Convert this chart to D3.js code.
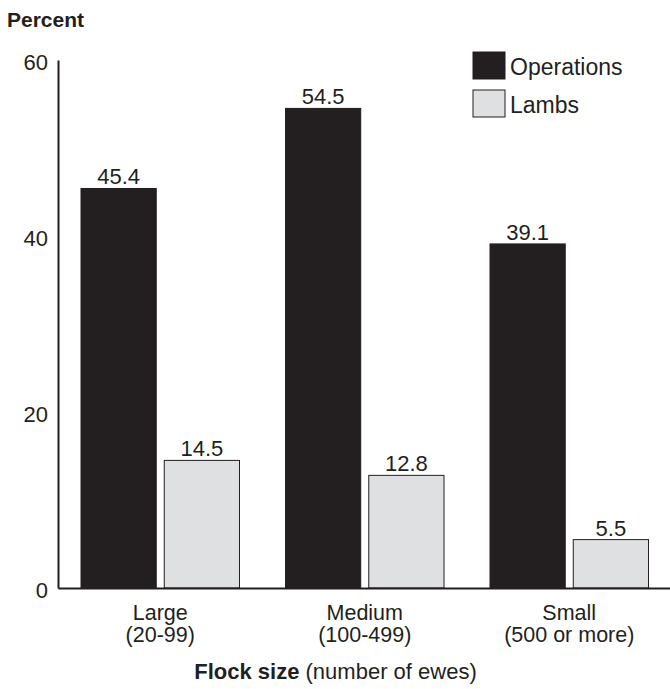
<!DOCTYPE html>
<html>
<head>
<meta charset="utf-8">
<script src="https://cdn.jsdelivr.net/npm/d3@7"></script>
<style>
  html, body { margin: 0; padding: 0; background: #fff; }
  svg { display: block; font-family: "Liberation Sans", Arial, sans-serif; }
</style>
</head>
<body>
<svg id="chart" width="670" height="689"></svg>
<script>
// Flock size categories (two-line labels)
const categories = ["Large", "Medium", "Small"];
const categorySub = ["(20-99)", "(100-499)", "(500 or more)"];
const seriesNames = ["Operations", "Lambs"];
const operations = [45.4, 54.5, 39.1];
const lambs = [14.5, 12.8, 5.5];
const yTicks = [0, 20, 40, 60];

const colors = { Operations: "#231f20", Lambs: "#dfe0e2" };
const ink = "#231f20";
const FS = 22;

const svg = d3.select("#chart");
const plotLeft = 58, plotRight = 671.5, plotTop = 60, plotBottom = 588;

const x = d3.scaleBand()
  .domain(categories)
  .range([plotLeft, plotRight])
  .paddingInner(0).paddingOuter(0);

// two bars per group, ~75px wide with an 8px gap, centred in each band
const groupPad = 23;
const xInner = d3.scaleBand()
  .domain(seriesNames)
  .range([groupPad, x.bandwidth() - groupPad])
  .paddingInner(8 / 83)
  .paddingOuter(0);

const y = d3.scaleLinear().domain([0, 60]).range([plotBottom, plotTop]);

const rows = categories.map((c, i) => ({ cat: c, sub: categorySub[i], values: [operations[i], lambs[i]] }));

// Bars
const groups = svg.append("g").selectAll("g").data(rows).join("g")
  .attr("transform", d => `translate(${x(d.cat)},0)`);

groups.selectAll("rect").data(d => d.values.map((v, j) => ({ key: seriesNames[j], v })))
  .join("rect")
  .attr("x", d => xInner(d.key))
  .attr("width", xInner.bandwidth())
  .attr("y", d => y(d.v))
  .attr("height", d => y(0) - y(d.v))
  .attr("fill", d => colors[d.key])
  .attr("stroke", ink)
  .attr("stroke-width", 1);

// Value labels
groups.selectAll("text.val").data(d => d.values.map((v, j) => ({ key: seriesNames[j], v })))
  .join("text")
  .attr("class", "val")
  .attr("x", d => xInner(d.key) + xInner.bandwidth() / 2)
  .attr("y", d => y(d.v) - 4)
  .attr("text-anchor", "middle")
  .attr("font-size", FS)
  .attr("fill", ink)
  .text(d => d.v.toFixed(1));

// Y axis
const yAxis = d3.axisLeft(y).tickValues(yTicks).tickSize(0).tickPadding(10);
const ya = svg.append("g").attr("transform", `translate(${plotLeft},0)`).call(yAxis);
ya.select(".domain").attr("stroke", ink).attr("stroke-width", 2);
ya.selectAll("text").attr("font-size", FS).attr("fill", ink)
  .attr("font-family", "Liberation Sans, Arial, sans-serif").attr("dy", "0.45em");

// X axis baseline
const xAxis = d3.axisBottom(x).tickSize(0).tickFormat("");
const xa = svg.append("g").attr("transform", `translate(0,${y(0)})`).call(xAxis);
xa.select(".domain").attr("stroke", ink).attr("stroke-width", 2);

// Category labels
const catLbl = svg.append("g").selectAll("text").data(rows).join("text")
  .attr("x", d => x(d.cat) + x.bandwidth() / 2)
  .attr("y", 620)
  .attr("text-anchor", "middle")
  .attr("font-size", 21.5)
  .attr("fill", ink);
catLbl.append("tspan").attr("x", d => x(d.cat) + x.bandwidth() / 2).text(d => d.cat);
catLbl.append("tspan").attr("x", d => x(d.cat) + x.bandwidth() / 2).attr("dy", 22).text(d => d.sub);

// Y title
svg.append("text").attr("x", 7).attr("y", 27)
  .attr("font-size", 21).attr("font-weight", "bold").attr("fill", ink)
  .text("Percent");

// X title
const xt = svg.append("text").attr("x", 335.5).attr("y", 679)
  .attr("text-anchor", "middle").attr("font-size", FS).attr("fill", ink);
xt.append("tspan").attr("font-weight", "bold").text("Flock size");
xt.append("tspan").text(" (number of ewes)");

// Legend
const legend = svg.append("g").attr("transform", "translate(473,52)");
seriesNames.forEach((s, i) => {
  const g = legend.append("g").attr("transform", `translate(0,${i * 38})`);
  g.append("rect").attr("width", 32).attr("height", 27)
    .attr("fill", colors[s]).attr("stroke", ink).attr("stroke-width", 1);
  g.append("text").attr("x", 37).attr("y", 23)
    .attr("font-size", 23).attr("fill", ink).text(s);
});
</script>
</body>
</html>
